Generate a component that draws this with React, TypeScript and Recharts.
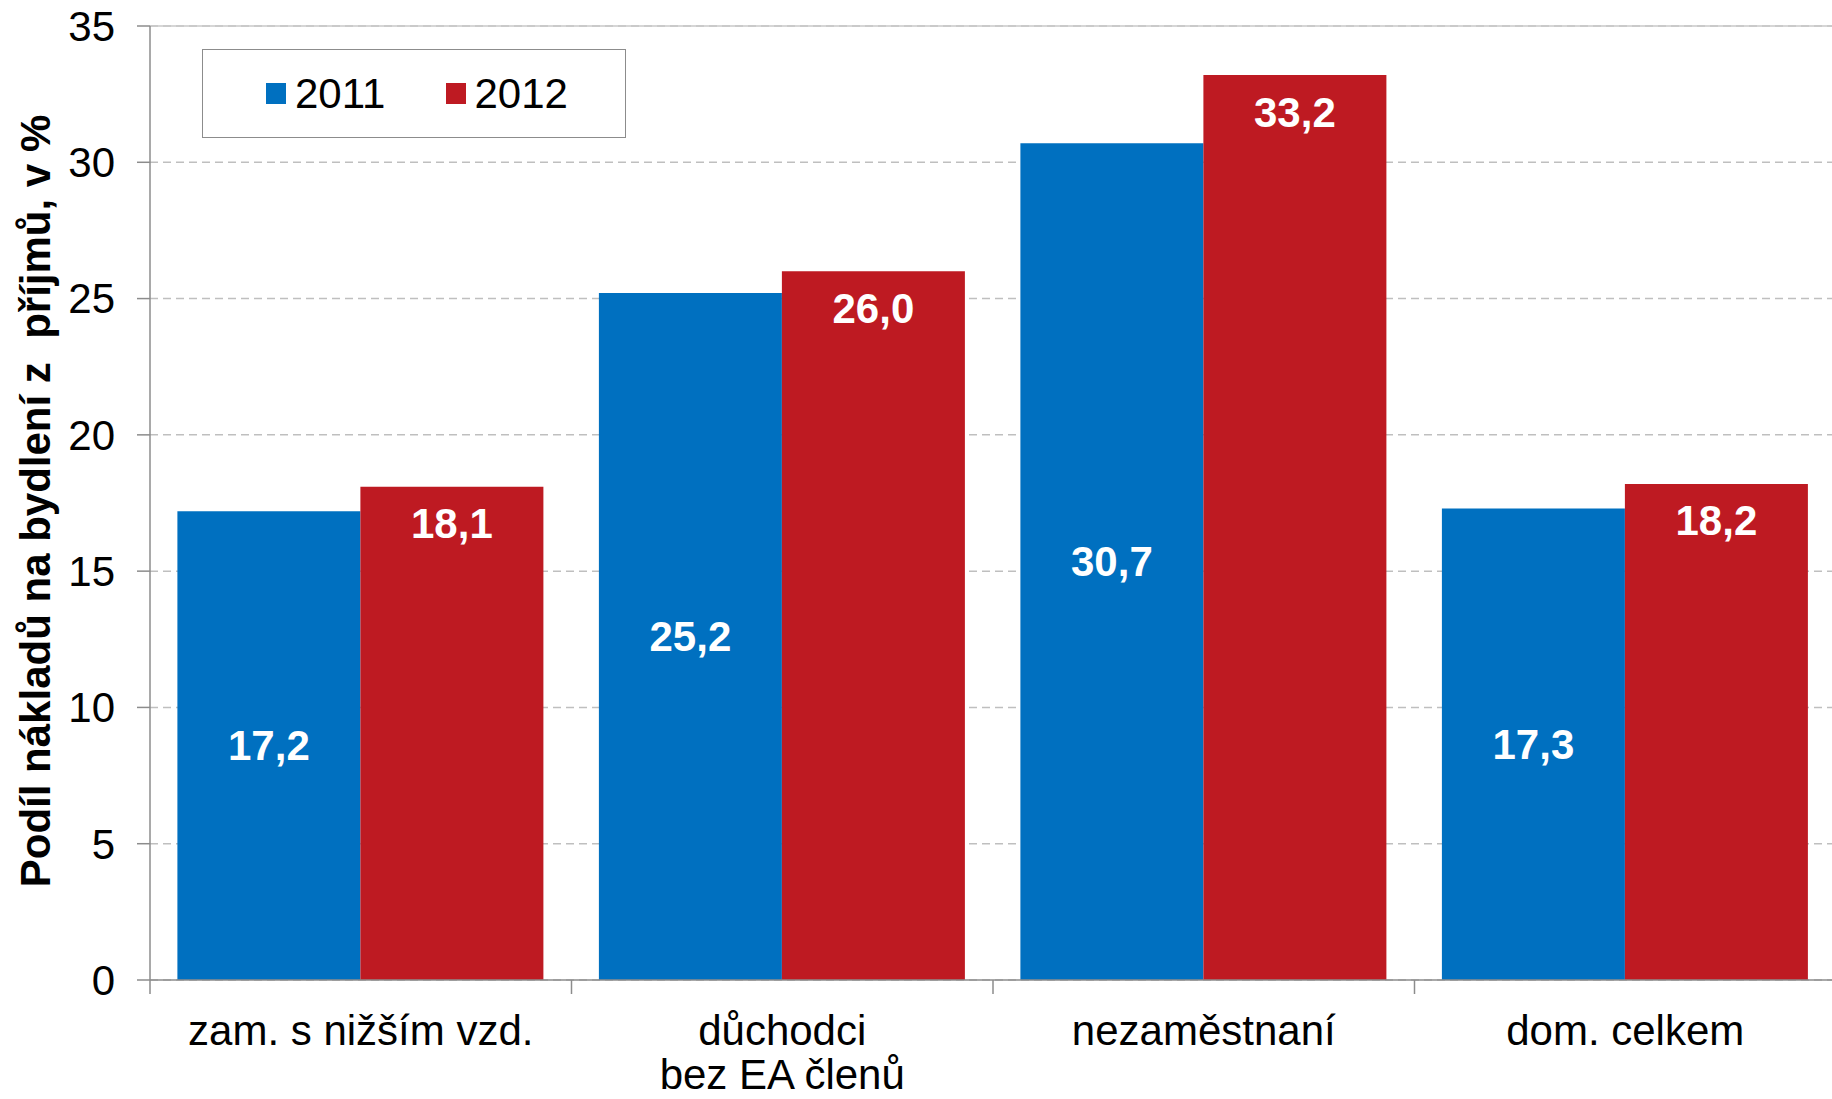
/* Podíl nákladů na bydlení – grouped bar chart, 2011 vs 2012 */

import React from "react";
import {
  BarChart,
  Bar,
  XAxis,
  YAxis,
  CartesianGrid,
  LabelList,
  Label,
  ReferenceLine,
} from "recharts";

document.body.style.margin = "0";

const categories = [
  "zam. s nižším vzd.",
  "důchodci\nbez EA členů",
  "nezaměstnaní",
  "dom. celkem",
];
const values2011 = [17.2, 25.2, 30.7, 17.3];
const values2012 = [18.1, 26.0, 33.2, 18.2];
const yTicks = [0, 5, 10, 15, 20, 25, 30, 35];
const yTitle = "Podíl nákladů na bydlení z  příjmů, v %";

const BLUE = "#0070C0";
const RED = "#BE1A22";
const AXIS = "#8C8C8C";
const FONT = "'Liberation Sans', Arial, sans-serif";
const FS = 42;

const W = 1832;
const H = 1099;
const AXIS_W = 150;
const RIGHT = -4; // plot runs a touch past the right edge, as in the original
const BAND = (W - AXIS_W - RIGHT) / categories.length;

const data = categories.map((name, i) => ({
  name,
  y2011: values2011[i],
  y2012: values2012[i],
}));

const fmt = (v: number) => v.toFixed(1).replace(".", ",");

function CategoryTick(props: any) {
  const { x, y, payload } = props;
  const lines = String(payload.value).split("\n");
  const left = x - BAND / 2;
  return (
    <g>
      <line x1={left} y1={y} x2={left} y2={y + 14} stroke={AXIS} strokeWidth={1.5} />
      <text
        x={x}
        y={y + 50}
        textAnchor="middle"
        dominantBaseline="central"
        fontSize={FS}
        fontFamily={FONT}
        fill="#000"
      >
        {lines.map((l, i) => (
          <tspan key={i} x={x} dy={i === 0 ? 0 : 44}>
            {l}
          </tspan>
        ))}
      </text>
    </g>
  );
}

const centerLabel = (props: any) => {
  const { x, y, width, height, value } = props;
  return (
    <text
      x={x + width / 2}
      y={y + height / 2}
      textAnchor="middle"
      dominantBaseline="central"
      fontSize={FS}
      fontWeight="bold"
      fontFamily={FONT}
      fill="#fff"
    >
      {fmt(value)}
    </text>
  );
};

const topLabel = (props: any) => {
  const { x, y, width, value } = props;
  return (
    <text
      x={x + width / 2}
      y={y + 37}
      textAnchor="middle"
      dominantBaseline="central"
      fontSize={FS}
      fontWeight="bold"
      fontFamily={FONT}
      fill="#fff"
    >
      {fmt(value)}
    </text>
  );
};

const legendItems = [
  { label: "2011", color: BLUE },
  { label: "2012", color: RED },
];

function LegendBox() {
  return (
    <div
      style={{
        position: "absolute",
        left: 202,
        top: 49,
        width: 424,
        height: 89,
        border: "1.5px solid #8C8C8C",
        background: "#fff",
        display: "flex",
        alignItems: "center",
        paddingLeft: 63,
        boxSizing: "border-box",
        fontFamily: FONT,
        fontSize: FS,
        color: "#000",
      }}
    >
      {legendItems.map((it) => (
        <div
          key={it.label}
          style={{ display: "flex", alignItems: "center", width: 189 }}
        >
          <span
            style={{
              display: "inline-block",
              width: 20,
              height: 21,
              background: it.color,
              marginRight: 9,
            }}
          />
          <span>{it.label}</span>
        </div>
      ))}
    </div>
  );
}

export default function App() {
  return (
    <div
      style={{
        position: "relative",
        width: W,
        height: H,
        background: "#fff",
        fontFamily: FONT,
        overflow: "hidden",
      }}
    >
      <BarChart
        width={W}
        height={H}
        data={data}
        margin={{ top: 26, right: RIGHT, left: 0, bottom: 0 }}
        barCategoryGap="6.5%"
        barGap={0}
      >
        <CartesianGrid
          vertical={false}
          stroke="#BFBFBF"
          strokeDasharray="8 5"
          strokeWidth={1.5}
        />
        <ReferenceLine y={35} stroke="#C8C8C8" strokeWidth={1.5} />
        <XAxis
          dataKey="name"
          height={H - 26 - 954}
          interval={0}
          tickSize={0}
          tickMargin={0}
          tickLine={false}
          axisLine={{ stroke: AXIS, strokeWidth: 1.5 }}
          tick={<CategoryTick />}
        />
        <YAxis
          width={AXIS_W}
          domain={[0, 35]}
          ticks={yTicks}
          interval={0}
          tickSize={13}
          tickMargin={22}
          axisLine={{ stroke: AXIS, strokeWidth: 1.5 }}
          tickLine={{ stroke: AXIS, strokeWidth: 1.5 }}
          tick={{ fontSize: FS, fill: "#000", fontFamily: FONT }}
        >
          <Label
            content={(p: any) => {
              const vb = p.viewBox;
              const cx = 35;
              const cy = vb.y + vb.height / 2 - 2;
              return (
                <text
                  x={cx}
                  y={cy}
                  transform={`rotate(-90 ${cx} ${cy})`}
                  textAnchor="middle"
                  dominantBaseline="central"
                  fontSize={FS}
                  fontWeight="bold"
                  fontFamily={FONT}
                  fill="#000"
                  style={{ whiteSpace: "pre" }}
                >
                  {yTitle}
                </text>
              );
            }}
          />
        </YAxis>
        <Bar dataKey="y2011" name="2011" fill={BLUE} isAnimationActive={false}>
          <LabelList dataKey="y2011" content={centerLabel} />
        </Bar>
        <Bar dataKey="y2012" name="2012" fill={RED} isAnimationActive={false}>
          <LabelList dataKey="y2012" content={topLabel} />
        </Bar>
      </BarChart>
      <LegendBox />
    </div>
  );
}
